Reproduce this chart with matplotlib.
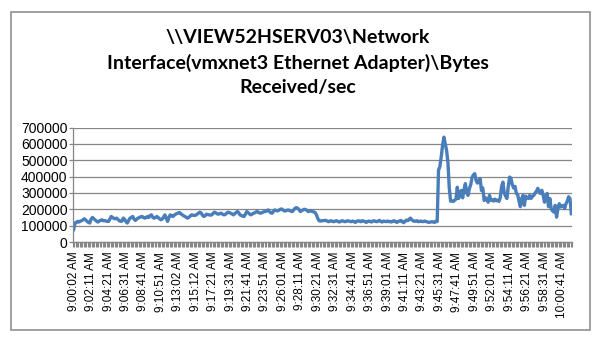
import numpy as np
import matplotlib
matplotlib.use("Agg")
import matplotlib.pyplot as plt
from matplotlib.patches import Rectangle
from matplotlib.ticker import FixedLocator, FuncFormatter

# ---- data (bytes/s in thousands, one sample every ~10 s) ----
titre = "\\\\VIEW52HSERV03\\Network\nInterface(vmxnet3 Ethernet Adapter)\\Bytes\nReceived/sec"

etiquettes = ["9:00:02 AM", "9:02:11 AM", "9:04:21 AM", "9:06:31 AM", "9:08:41 AM",
              "9:10:51 AM", "9:13:02 AM", "9:15:12 AM", "9:17:21 AM", "9:19:31 AM",
              "9:21:41 AM", "9:23:51 AM", "9:26:01 AM", "9:28:11 AM", "9:30:21 AM",
              "9:32:31 AM", "9:34:41 AM", "9:36:51 AM", "9:39:01 AM", "9:41:11 AM",
              "9:43:21 AM", "9:45:31 AM", "9:47:41 AM", "9:49:51 AM", "9:52:01 AM",
              "9:54:11 AM", "9:56:21 AM", "9:58:31 AM", "10:00:41 AM"]
pas_etiq = 13

octets_k = [
    76, 116, 120, 126, 122, 128, 130, 136, 142, 134, 126, 120, 116,
    140, 150, 142, 135, 128, 122, 128, 132, 136, 130, 132, 128, 126,
    126, 140, 156, 150, 144, 142, 146, 138, 130, 126, 128, 146, 138,
    124, 116, 132, 146, 150, 156, 140, 132, 140, 146, 150, 154, 156,
    150, 146, 150, 156, 150, 162, 166, 150, 146, 150, 156, 150, 142,
    136, 140, 152, 166, 146, 126, 150, 166, 160, 156, 164, 170, 174,
    178, 180, 172, 166, 160, 156, 150, 146, 152, 160, 166, 164, 162,
    164, 170, 176, 182, 178, 164, 156, 160, 170, 168, 166, 164, 166,
    176, 182, 178, 172, 170, 174, 176, 170, 166, 168, 176, 182, 180,
    176, 172, 166, 172, 180, 186, 180, 166, 162, 158, 156, 170, 186,
    180, 172, 166, 170, 176, 178, 184, 186, 180, 176, 178, 182, 186,
    186, 190, 196, 186, 178, 176, 188, 196, 192, 190, 194, 200, 202,
    196, 190, 190, 194, 196, 192, 188, 186, 196, 206, 210, 206, 198,
    186, 192, 196, 200, 198, 192, 186, 190, 192, 186, 184, 180, 166,
    144, 130, 128, 130, 130, 132, 132, 128, 124, 128, 130, 126, 124,
    128, 130, 126, 122, 126, 130, 128, 124, 126, 130, 128, 126, 124,
    128, 124, 120, 126, 130, 128, 124, 130, 128, 126, 120, 124, 128,
    126, 122, 128, 130, 126, 124, 128, 132, 126, 122, 128, 126, 124,
    128, 124, 126, 122, 128, 130, 124, 120, 126, 128, 132, 124, 118,
    126, 134, 130, 138, 146, 136, 130, 126, 128, 130, 124, 126, 128,
    124, 126, 128, 124, 122, 120, 122, 124, 122, 120, 126, 125, 440,
    460, 520, 590, 641, 600, 560, 488, 330, 250, 250, 248, 255, 262,
    335, 266, 300, 315, 270, 320, 357, 300, 285, 327, 350, 395, 410,
    418, 376, 360, 375, 388, 315, 330, 254, 270, 260, 243, 285, 255,
    258, 250, 262, 252, 256, 248, 270, 340, 366, 300, 280, 266, 340,
    397, 390, 350, 330, 340, 297, 290, 250, 216, 266, 285, 224, 280,
    270, 266, 285, 266, 280, 285, 300, 310, 328, 310, 297, 316, 285,
    243, 280, 297, 216, 266, 204, 190, 183, 224, 152, 204, 234, 214,
    220, 224, 204, 234, 250, 277, 266, 173,
]

y = np.array(octets_k) * 1000.0
n = len(y)
x = np.arange(n)

bleu = "#4a7ebb"
gris = "#868686"

plt.rcParams['font.family'] = ['Liberation Sans', 'DejaVu Sans']

fig = plt.figure(figsize=(6.01, 3.44), dpi=100)
ax = fig.add_axes([73/601, 1 - 242/344, (572 - 73)/601, (242 - 127.5)/344])

ax.plot(x, y, '-', color=bleu, lw=2.4, solid_joinstyle='round')

ax.set_xlim(-0.5, n - 0.5)
ax.set_ylim(0, 700000)
ax.set_yticks(np.arange(0, 700001, 100000))
ax.yaxis.set_major_formatter(FuncFormatter(lambda v, p: "%d" % v))
ax.grid(True, axis='y', color=gris, lw=0.9)
ax.set_axisbelow(True)

# etiquettes toutes les 13 mesures, graduations entre chaque mesure
ax.xaxis.set_major_locator(FixedLocator(np.arange(len(etiquettes)) * pas_etiq))
ax.set_xticklabels(etiquettes, rotation=90, fontsize=8.5)
ax.xaxis.set_minor_locator(FixedLocator(np.arange(n + 1) - 0.5))
ax.tick_params(axis='x', which='major', length=0, pad=7)
ax.tick_params(axis='x', which='minor', length=3.5, width=0.8, color=gris)
ax.tick_params(axis='y', length=3, width=0.9, color=gris, pad=1, labelsize=10)

for cote in ['top', 'right']:
    ax.spines[cote].set_visible(False)
for cote in ['left', 'bottom']:
    ax.spines[cote].set_color(gris)
    ax.spines[cote].set_linewidth(0.9)

fig.text(0.495, 1 - 29/344, titre, ha='center', va='top', fontsize=14,
         fontweight='bold', family='Lato', linespacing=1.5)

fig.patches.append(Rectangle((11/601, 1 - 330/344), 579/601, 318/344,
                             transform=fig.transFigure, fill=False,
                             edgecolor=gris, lw=1.1))

plt.savefig("out.png", dpi=100)
